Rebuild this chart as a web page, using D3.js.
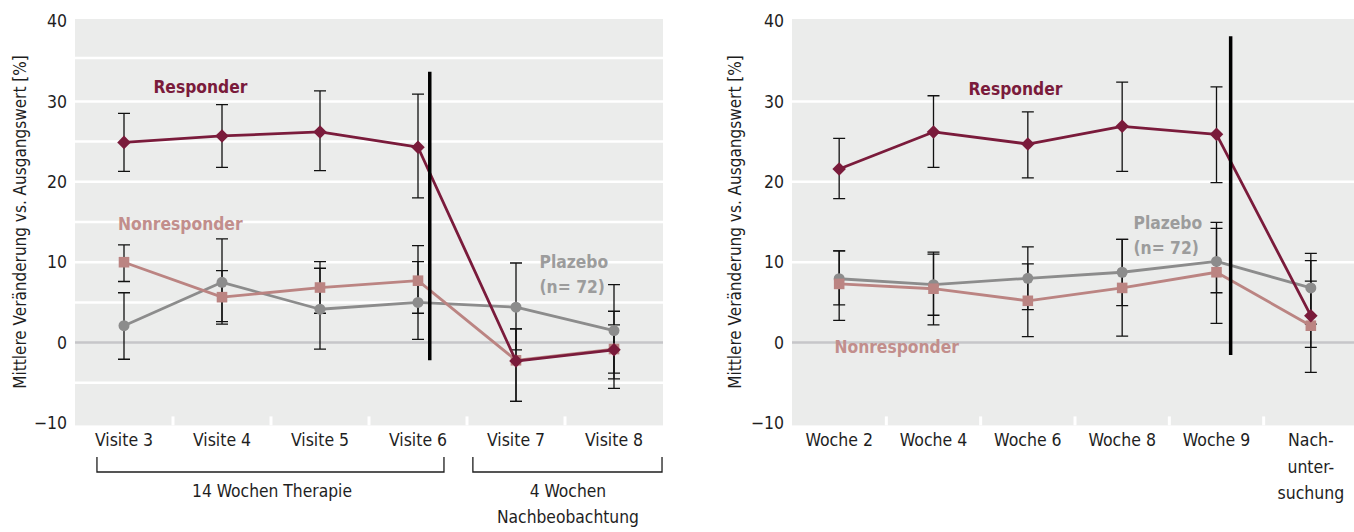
<!DOCTYPE html>
<html>
<head>
<meta charset="utf-8">
<title>Mittlere Veränderung vs. Ausgangswert</title>
<style>
  body { margin: 0; background: #fff; }
  svg text { font-family: "Liberation Sans Narrow", "DejaVu Sans Condensed", sans-serif; fill: #1e1e1e; }
</style>
</head>
<body>
<script src="https://cdn.jsdelivr.net/npm/d3@7"></script>
<script>
// ---- data, left panel (Visiten) ----
var leftCategories = ["Visite 3", "Visite 4", "Visite 5", "Visite 6", "Visite 7", "Visite 8"];
var leftResponder      = [24.9, 25.7, 26.2, 24.3, -2.3, -0.9];
var leftResponderLow   = [21.3, 21.8, 21.4, 18.0, -7.3, -5.7];
var leftResponderHigh  = [28.5, 29.6, 31.3, 30.9, 1.7, 3.9];
var leftNonresponder     = [10.0, 5.65, 6.85, 7.7, -2.2, -0.8];
var leftNonresponderLow  = [7.6, 2.6, 3.65, 3.65, -7.3, -3.8];
var leftNonresponderHigh = [12.15, 8.95, 10.07, 12.07, 1.7, 2.2];
var leftPlacebo     = [2.1, 7.5, 4.15, 5.0, 4.4, 1.5];
var leftPlaceboLow  = [-2.07, 2.3, -0.8, 0.4, -0.9, -4.5];
var leftPlaceboHigh = [6.2, 12.9, 9.25, 10.07, 9.9, 7.2];

// ---- data, right panel (Wochen) ----
var rightCategories = ["Woche 2", "Woche 4", "Woche 6", "Woche 8", "Woche 9", "Nach-\nunter-\nsuchung"];
var rightResponder      = [21.6, 26.2, 24.7, 26.9, 25.9, 3.35];
var rightResponderLow   = [17.9, 21.8, 20.5, 21.3, 19.9, -3.7];
var rightResponderHigh  = [25.4, 30.7, 28.7, 32.4, 31.8, 10.2];
var rightNonresponder     = [7.3, 6.7, 5.2, 6.8, 8.75, 2.1];
var rightNonresponderLow  = [2.77, 2.2, 0.74, 0.8, 2.4, -0.6];
var rightNonresponderHigh = [11.4, 11.25, 9.8, 12.85, 14.2, 7.65];
var rightPlacebo     = [7.94, 7.2, 8.0, 8.75, 10.1, 6.8];
var rightPlaceboLow  = [4.7, 3.4, 4.1, 4.6, 6.2, 2.3];
var rightPlaceboHigh = [11.4, 11.0, 11.9, 12.85, 14.95, 11.1];

var yTicks = [-10, 0, 10, 20, 30, 40];
var yTitle = "Mittlere Veränderung vs. Ausgangswert [%]";

var colors = { responder: "#7a1b3b", nonresponder: "#bb8482", placebo: "#8c8c8c" };
var labelColors = { responder: "#7a1b3b", nonresponder: "#c28e8c", placebo: "#9c9c9c" };

var width = 1354, height = 532;

var svg = d3.select("body").append("svg")
    .attr("width", width)
    .attr("height", height);

var y = d3.scaleLinear().domain([-10, 40]).range([423, 21]);

function series(mean, low, high) {
    return mean.map(function (d, i) {
        return { i: i, v: d, lo: low[i], hi: high[i] };
    });
}

function drawPanel(p) {
    var x = d3.scaleBand().domain(p.categories).range(p.xRange);
    var step = x.step();
    // position at fractional category index
    var pos = function (i) { return x(p.categories[0]) + step / 2 + i * step; };

    var g = svg.append("g");

    g.append("rect")
        .attr("x", p.xRange[0])
        .attr("y", y(40.25))
        .attr("width", p.xRange[1] - p.xRange[0])
        .attr("height", y(-10.3) - y(40.25))
        .attr("fill", "#ebeceb");

    g.selectAll(".grid")
        .data(p.grid)
        .join("line")
        .attr("x1", p.xRange[0]).attr("x2", p.xRange[1])
        .attr("y1", function (d) { return y(d); })
        .attr("y2", function (d) { return y(d); })
        .attr("stroke", "#fff")
        .attr("stroke-width", 2.5);

    g.append("line")
        .attr("x1", p.xRange[0]).attr("x2", p.xRange[1])
        .attr("y1", y(0)).attr("y2", y(0))
        .attr("stroke", "#c6c6c9")
        .attr("stroke-width", 2.5);

    // white notches between categories at the bottom
    g.selectAll(".notch")
        .data(p.categories.slice(1))
        .join("line")
        .attr("x1", function (d) { return x(d); })
        .attr("x2", function (d) { return x(d); })
        .attr("y1", y(-10.3))
        .attr("y2", y(-10.3) - 9)
        .attr("stroke", "#fff")
        .attr("stroke-width", 3);

    // y axis
    g.append("g")
        .attr("transform", "translate(" + p.xRange[0] + ",0)")
        .call(d3.axisLeft(y).tickValues(yTicks).tickSize(0).tickPadding(8)
            .tickFormat(function (d) { return d < 0 ? "\u2212" + Math.abs(d) : d; }))
        .call(function (a) { a.select(".domain").remove(); })
        .selectAll("text")
        .attr("font-size", 17.5)
        .attr("font-family", null)
        .attr("fill", "#1e1e1e");

    g.append("text")
        .attr("transform", "translate(" + p.titleX + "," + y(15) + ") rotate(-90)")
        .attr("text-anchor", "middle")
        .attr("dy", "0.35em")
        .attr("font-size", 17)
        .text(yTitle);

    // x axis
    var xa = g.append("g")
        .attr("transform", "translate(0," + y(-10.3) + ")")
        .call(d3.axisBottom(x).tickSize(0).tickPadding(0))
        .call(function (a) { a.select(".domain").remove(); });
    xa.selectAll("text")
        .attr("font-size", 17.5)
        .attr("font-family", null)
        .attr("fill", "#1e1e1e")
        .attr("dy", null)
        .attr("y", 0)
        .each(function (d) {
            var t = d3.select(this), lines = d.split("\n");
            t.text(null);
            lines.forEach(function (l, k) {
                t.append("tspan").attr("x", 0).attr("y", 21 + k * 26.5).text(l);
            });
        });

    // brackets below the axis
    (p.brackets || []).forEach(function (b) {
        var x0 = pos(b.from), x1 = pos(b.to);
        g.append("path")
            .attr("d", "M" + x0 + ",457V472H" + x1 + "V457")
            .attr("fill", "none")
            .attr("stroke", "#1e1e1e")
            .attr("stroke-width", 1.3);
        var t = g.append("text")
            .attr("text-anchor", "middle")
            .attr("font-size", 17.3);
        b.text.forEach(function (l, k) {
            t.append("tspan").attr("x", pos(b.mid)).attr("y", 497 + k * 26).text(l);
        });
    });

    var all = [
        { key: "placebo", shape: d3.symbolCircle, size: 95, data: series(p.placebo[0], p.placebo[1], p.placebo[2]) },
        { key: "nonresponder", shape: d3.symbolSquare, size: 112, data: series(p.nonresponder[0], p.nonresponder[1], p.nonresponder[2]) },
        { key: "responder", shape: d3.symbolSquare, size: 92, rotate: 45, data: series(p.responder[0], p.responder[1], p.responder[2]) }
    ];

    // error bars
    all.forEach(function (s) {
        var eb = g.append("g").attr("stroke", "#111").attr("stroke-width", 1.3).attr("fill", "none");
        eb.selectAll("path")
            .data(s.data)
            .join("path")
            .attr("d", function (d) {
                var cx = pos(d.i), w = 6;
                return "M" + cx + "," + y(d.hi) + "V" + y(d.lo) +
                    "M" + (cx - w) + "," + y(d.hi) + "H" + (cx + w) +
                    "M" + (cx - w) + "," + y(d.lo) + "H" + (cx + w);
            });
    });

    var line = d3.line()
        .x(function (d) { return pos(d.i); })
        .y(function (d) { return y(d.v); });

    all.forEach(function (s) {
        g.append("path")
            .datum(s.data)
            .attr("d", line)
            .attr("fill", "none")
            .attr("stroke", colors[s.key])
            .attr("stroke-width", 2.8)
            .attr("stroke-linejoin", "round");
        g.selectAll(".m-" + s.key)
            .data(s.data)
            .join("path")
            .attr("transform", function (d) {
                return "translate(" + pos(d.i) + "," + y(d.v) + ")" + (s.rotate ? " rotate(" + s.rotate + ")" : "");
            })
            .attr("d", d3.symbol().type(s.shape).size(s.size))
            .attr("fill", colors[s.key]);
    });

    // series labels
    p.labels.forEach(function (l) {
        var t = g.append("text")
            .attr("font-size", 17.3)
            .attr("font-weight", "bold")
            .style("fill", labelColors[l.key]);
        l.text.forEach(function (s, k) {
            t.append("tspan").attr("x", pos(l.at)).attr("y", y(l.v) + 6 + k * 25).text(s);
        });
    });

    // phase divider
    g.append("line")
        .attr("x1", pos(p.divider.at)).attr("x2", pos(p.divider.at))
        .attr("y1", y(p.divider.top)).attr("y2", y(p.divider.bottom))
        .attr("stroke", "#000")
        .attr("stroke-width", 3.5);
}

drawPanel({
    categories: leftCategories,
    xRange: [75, 663],
    titleX: 20,
    grid: [-5, 5, 10, 15, 20, 25, 30, 35.4],
    responder: [leftResponder, leftResponderLow, leftResponderHigh],
    nonresponder: [leftNonresponder, leftNonresponderLow, leftNonresponderHigh],
    placebo: [leftPlacebo, leftPlaceboLow, leftPlaceboHigh],
    labels: [
        { key: "responder", at: 0.3, v: 31.8, text: ["Responder"] },
        { key: "nonresponder", at: -0.06, v: 14.7, text: ["Nonresponder"] },
        { key: "placebo", at: 4.24, v: 10.0, text: ["Plazebo", "(n= 72)"] }
    ],
    divider: { at: 3.12, top: 33.7, bottom: -2.2 },
    brackets: [
        { from: -0.276, to: 3.265, mid: 1.51, text: ["14 Wochen Therapie"] },
        { from: 3.56, to: 5.49, mid: 4.53, text: ["4 Wochen", "Nachbeobachtung"] }
    ]
});

drawPanel({
    categories: rightCategories,
    xRange: [792, 1358],
    titleX: 735,
    grid: [10, 20, 30],
    responder: [rightResponder, rightResponderLow, rightResponderHigh],
    nonresponder: [rightNonresponder, rightNonresponderLow, rightNonresponderHigh],
    placebo: [rightPlacebo, rightPlaceboLow, rightPlaceboHigh],
    labels: [
        { key: "responder", at: 1.37, v: 31.6, text: ["Responder"] },
        { key: "nonresponder", at: -0.05, v: -0.5, text: ["Nonresponder"] },
        { key: "placebo", at: 3.12, v: 14.9, text: ["Plazebo", "(n= 72)"] }
    ],
    divider: { at: 4.15, top: 38.1, bottom: -1.55 }
});
</script>
</body>
</html>
